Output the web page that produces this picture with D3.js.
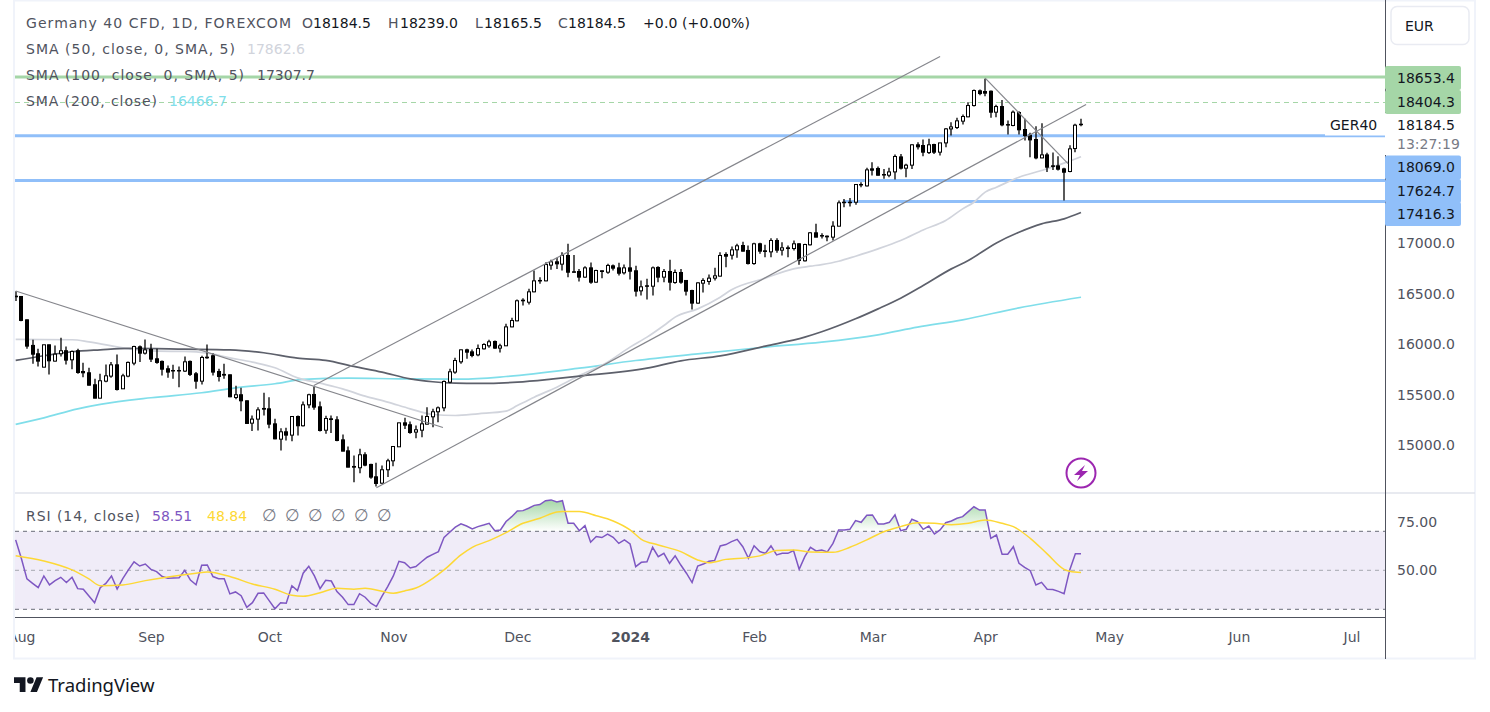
<!DOCTYPE html>
<html>
<head>
<meta charset="utf-8">
<title>Germany 40 CFD</title>
<script src="https://cdn.jsdelivr.net/npm/d3@7"></script>
<style>
    body { margin: 0; background: #fff; }
    text { font-family: "DejaVu Sans", sans-serif; font-size: 14px; }
</style>
</head>
<body>
<svg id="chart" width="1490" height="712"></svg>
<script>
// daily bars
var opens = [
    16477,16474,16242,15988,15905,15772,15994,15832,15905,15935,
    15845,15935,15729,15716,15597,15464,15633,15683,15795,15557,
    15683,15812,15974,15911,15948,15855,15829,15756,15739,15739,
    15733,15829,15706,15633,15871,15885,15729,15700,15696,15471,
    15498,15438,15216,15256,15362,15358,15209,15057,15130,15097,
    15282,15190,15398,15501,15378,15146,15259,15249,15050,14941,
    14786,14773,14902,14806,14683,14620,14753,14842,14981,15219,
    15200,15127,15146,15206,15279,15329,15368,15623,15723,15825,
    15944,15924,15894,15954,15984,16027,15961,15984,16172,16232,
    16431,16417,16520,16629,16629,16785,16818,16795,16881,16719,
    16722,16666,16758,16616,16729,16715,16778,16758,16709,16758,
    16729,16530,16580,16576,16762,16666,16722,16613,16712,16633,
    16533,16408,16606,16623,16656,16676,16891,16884,16937,16980,
    16931,16801,16997,16927,16917,17030,16934,16957,16950,16997,
    16828,16987,17106,17079,17073,17063,17172,17410,17410,17410,
    17586,17572,17741,17745,17685,17678,17711,17860,17748,17778,
    17980,17973,17903,17983,17907,17999,18138,18152,18215,18258,
    18370,18516,18509,18512,18304,18360,18181,18172,18301,18132,
    18076,18033,17850,17880,17771,17771,17741,17715,17943,18184.5
];
var highs = [
    16527,16477,16246,16044,15954,15994,15994,15988,16064,15977,
    15938,15954,15815,15766,15656,15706,15799,15822,15898,15706,
    15829,15984,15988,16047,16004,15954,15838,15789,15795,15779,
    15878,15838,15723,15885,15997,15911,15756,15806,15700,15587,
    15567,15441,15292,15375,15517,15474,15259,15166,15170,15285,
    15292,15431,15507,15580,15431,15289,15292,15285,15104,14984,
    14895,14961,14928,14812,14822,14796,14862,14988,15219,15269,
    15233,15193,15292,15375,15358,15381,15640,15756,15865,15947,
    15954,15947,15997,16010,16043,16037,16004,16202,16262,16444,
    16457,16550,16732,16666,16815,16838,16858,16914,16997,16887,
    16748,16775,16811,16739,16732,16798,16791,16808,16791,16960,
    16778,16633,16649,16772,16775,16748,16838,16742,16748,16633,
    16540,16616,16656,16692,16758,16914,16914,16970,16997,17017,
    16980,17007,17007,16987,17053,17053,17013,16980,17030,17003,
    16997,17113,17195,17103,17079,17222,17427,17443,17453,17592,
    17609,17751,17807,17764,17741,17751,17884,17890,17791,17986,
    18006,18033,18039,17990,17999,18148,18205,18248,18281,18403,
    18529,18529,18635,18519,18377,18426,18221,18321,18314,18238,
    18099,18165,18195,17900,17903,17867,17751,17976,18188,18239
];
var lows = [
    16428,16229,15954,15806,15779,15772,15700,15829,15878,15799,
    15752,15706,15673,15590,15464,15464,15623,15666,15540,15554,
    15673,15792,15822,15898,15822,15806,15689,15666,15656,15573,
    15723,15683,15557,15600,15855,15689,15630,15656,15474,15454,
    15335,15209,15137,15143,15292,15166,15057,14945,15044,15037,
    15093,15183,15365,15348,15133,15110,15117,15037,14938,14779,
    14630,14719,14789,14663,14587,14614,14680,14789,14978,15157,
    15110,15067,15077,15203,15176,15226,15335,15613,15706,15805,
    15855,15871,15881,15947,15964,15954,15918,15981,16169,16229,
    16384,16394,16517,16600,16626,16739,16748,16732,16666,16715,
    16623,16659,16600,16609,16656,16699,16732,16682,16692,16643,
    16474,16484,16444,16484,16616,16616,16533,16600,16600,16484,
    16345,16401,16513,16590,16633,16672,16765,16841,16858,16921,
    16791,16788,16897,16864,16864,16907,16881,16864,16931,16788,
    16821,16980,17063,17050,17023,17030,17172,17361,17367,17384,
    17559,17566,17675,17675,17642,17659,17635,17735,17659,17741,
    17933,17867,17890,17890,17874,17956,18072,18138,18181,18254,
    18360,18473,18463,18248,18254,18165,18082,18165,18082,18023,
    17857,17837,17847,17711,17731,17725,17427,17708,17907,18165.5
];
var closes = [
    16471,16236,15981,15901,15832,15994,15835,15901,15935,15842,
    15928,15719,15716,15593,15464,15637,15686,15795,15550,15686,
    15819,15977,15911,15944,15852,15819,15752,15723,15736,15736,
    15825,15700,15633,15868,15865,15723,15679,15693,15478,15498,
    15438,15213,15256,15348,15355,15206,15060,15130,15097,15282,
    15190,15398,15498,15375,15143,15262,15252,15044,14938,14779,
    14779,14902,14799,14680,14617,14753,14842,14984,15219,15196,
    15123,15150,15209,15282,15329,15368,15630,15726,15838,15944,
    15921,15888,15957,15997,16024,15961,15984,16172,16235,16431,
    16437,16520,16629,16633,16791,16818,16798,16881,16715,16715,
    16666,16758,16616,16732,16722,16782,16755,16705,16758,16725,
    16527,16570,16576,16758,16666,16722,16616,16712,16616,16527,
    16408,16609,16633,16656,16679,16881,16874,16937,16977,16924,
    16801,16997,16924,16921,17030,16934,16957,16950,16997,16831,
    16990,17106,17063,17076,17066,17172,17404,17407,17407,17586,
    17582,17731,17728,17678,17682,17711,17864,17748,17778,17980,
    17960,17907,17980,17907,17999,18138,18158,18218,18261,18370,
    18519,18489,18493,18304,18360,18178,18178,18304,18129,18072,
    18029,17850,17880,17758,17768,17738,17708,17940,18175,18184.5
];

// moving averages, read at these bar numbers
var sma50Bars = [0,10,13,20,25,30,34,38,42,46,50,54,58,62,66,70,74,78,82,87,89,92,96,100,105,109,112,115,117,121,125,127,133,138,141,143,146,149,153,157,161,165,168,170,172,174,178,182,186,189];
var sma50Values = [16047,16044,16024,15954,15931,15928,15911,15865,15822,15766,15666,15613,15557,15484,15425,15358,15302,15292,15309,15335,15391,15474,15573,15689,15822,15971,16070,16186,16269,16351,16467,16540,16656,16748,16775,16791,16824,16874,16947,17030,17135,17228,17344,17410,17510,17559,17658,17725,17798,17862.6];
var sma100Bars = [0,5,10,15,20,30,38,44,50,55,60,65,70,74,78,82,89,95,100,112,118,125,133,140,143,149,153,157,161,166,169,174,178,182,186,189];
var sma100Values = [15839,15885,15925,15944,15958,15951,15944,15915,15861,15839,15779,15723,15656,15627,15613,15610,15623,15653,15683,15762,15835,15884,15981,16070,16123,16252,16351,16457,16583,16748,16831,17006,17112,17195,17245,17307.7];
var sma200Bars = [0,5,11,15,24,33,39,46,51,59,68,79,87,100,110,121,133,143,153,160,168,178,189];
var sma200Values = [15203,15269,15358,15402,15468,15518,15567,15607,15650,15663,15656,15653,15679,15762,15838,15904,15971,16020,16093,16169,16242,16361,16466.7];

// RSI (14), one value per bar
var rsiValues = [
    65.6,56.2,45.6,43.3,41.1,47.1,42.5,44.7,46.4,43.7,
    46.4,40.6,40.3,36.8,33.4,41.1,43.3,47.1,40.4,45.7,
    50.2,54.3,52.2,53.2,50.5,49.3,46.8,45.9,46.1,46.2,
    50.0,45.0,42.6,52.6,52.7,46.8,45.7,45.7,37.9,38.9,
    37.0,31.0,33.4,38.2,38.4,34.3,30.3,33.4,33.1,42.1,
    39.6,48.5,52.1,47.1,40.6,44.9,44.5,39.1,36.2,32.4,
    32.4,38.0,36.2,33.1,31.4,36.8,41.6,47.1,54.6,53.9,
    51.2,51.9,54.4,56.7,58.2,59.6,66.9,69.5,72.1,73.8,
    72.7,71.2,72.4,73.2,74.1,70.3,70.7,75.0,77.5,80.4,
    80.6,81.8,83.3,83.7,85.7,86.1,85.0,85.7,74.1,74.1,
    70.3,72.9,64.4,67.3,66.8,68.6,66.9,63.8,65.6,63.5,
    51.9,54.1,54.4,61.8,57.0,58.7,53.6,57.4,52.7,48.5,
    43.7,52.2,53.2,54.6,55.0,62.5,63.2,64.7,65.9,62.1,
    56.2,62.6,59.6,58.7,62.5,57.9,58.7,58.7,60.1,50.5,
    57.0,61.8,59.9,60.4,59.4,63.8,70.7,70.7,71.0,75.5,
    74.6,78.2,78.4,73.8,73.8,74.6,78.4,70.3,71.0,76.2,
    75.0,71.0,72.7,68.6,70.7,74.4,75.3,76.7,77.5,80.1,
    82.6,80.9,80.9,66.4,68.1,58.2,58.2,62.1,53.6,51.5,
    49.8,42.5,43.8,40.3,40.1,39.2,38.0,50.2,58.5,58.51
];
var rsiMaBars = [0,5,10,13,15,19,23,27,32,34,38,42,46,49,51,54,57,60,62,65,67,69,71,74,76,79,81,84,87,90,93,96,97,100,103,106,109,111,114,118,121,123,126,130,132,135,138,141,145,148,151,154,157,160,163,166,169,172,175,177,180,183,186,187,189];
var rsiMaValues = [57.5,54.8,50.2,45.6,42.1,42.5,44.7,46.6,48.5,49.1,46.8,43.0,40.3,37.2,36.7,38.5,40.8,40.3,40.8,39.2,38.2,39.4,40.9,45.9,50.2,57.9,61.8,65.2,69.3,74.1,76.7,79.9,80.1,80.1,78.0,75.3,70.7,65.9,63.0,59.6,55.3,53.9,55.6,56.5,57.4,60.1,60.4,59.4,59.2,61.8,65.6,69.8,72.4,74.4,74.1,73.4,74.1,75.8,74.1,72.4,66.4,58.4,50.5,49.5,48.84];

// hand drawn lines on the chart: start and end of each
var trendBars = [[0,75.8],[52.9,164],[64,189.9],[172,186.7]];
var trendPrices = [[16528,15173],[15590,18857],[14574,18380],[18643,17794]];

var levelValues = [18653.4,18404.3,18069.0,17624.7,17416.3];
var levelKinds = ["green","greenDash","blue","blue","blue"];
var priceTicks = [17000,16500,16000,15500,15000];
var rsiTicks = [75,50];
var rsiBands = [70,50,30];
var monthBars = [1,24,45,67,89,109,131,152,172,194,217,237];
var monthLabels = ["Aug","Sep","Oct","Nov","Dec","2024","Feb","Mar","Apr","May","Jun","Jul"];

var ink = "#131722", gray = "#50535e", green = "#a5d6a7", blue = "#90bff9";
var paneRight = 1385, paneLeft = 15;

var svg = d3.select("#chart");
var defs = svg.append("defs");

defs.append("clipPath").attr("id", "paneClip").append("rect")
    .attr("x", paneLeft).attr("y", 0).attr("width", paneRight - paneLeft).attr("height", 660);

var x = d3.scaleLinear().domain([0, opens.length - 1]).range([15.67, 1081]);
var y = d3.scaleLinear().domain([15000, 17000]).range([444.9, 243.5]);
var yRsi = d3.scaleLinear().domain([30, 70]).range([609.3, 531.3]);

// frame and separators
svg.append("rect").attr("x", 14).attr("y", 0.5).attr("width", 1461).attr("height", 658)
    .attr("fill", "#fff").attr("stroke", "#f0f3fa").attr("stroke-width", 2);
svg.append("line").attr("x1", 15).attr("x2", 1475).attr("y1", 493).attr("y2", 493)
    .attr("stroke", "#e0e3eb").attr("stroke-width", 1.5);

var pane = svg.append("g").attr("clip-path", "url(#paneClip)");

// RSI background
pane.append("rect").attr("x", paneLeft).attr("width", paneRight - paneLeft)
    .attr("y", yRsi(70)).attr("height", yRsi(30) - yRsi(70)).attr("fill", "#f0ecf8");

pane.selectAll(".rsiBand").data(rsiBands).enter().append("line")
    .attr("x1", paneLeft).attr("x2", paneRight)
    .attr("y1", function(d) { return yRsi(d); })
    .attr("y2", function(d) { return yRsi(d); })
    .attr("stroke", function(d) { return d == 50 ? "#a6a8b0" : "#6a6d78"; })
    .attr("stroke-dasharray", "4 4");

// horizontal levels
pane.selectAll(".level").data(levelValues).enter().append("line")
    .attr("x1", function(d, i) { return i == 4 ? x(146.8) : paneLeft; })
    .attr("x2", paneRight)
    .attr("y1", function(d, i) { return levelKinds[i] == "greenDash" ? Math.round(y(d)) + 0.5 : y(d); })
    .attr("y2", function(d, i) { return levelKinds[i] == "greenDash" ? Math.round(y(d)) + 0.5 : y(d); })
    .attr("stroke", function(d, i) { return levelKinds[i] == "blue" ? blue : green; })
    .attr("stroke-width", function(d, i) { return levelKinds[i] == "greenDash" ? 1 : 3; })
    .attr("stroke-dasharray", function(d, i) { return levelKinds[i] == "greenDash" ? "5 4" : null; });

// moving averages
function drawAverage(bars, values, colour) {
    var line = d3.line()
        .curve(d3.curveMonotoneX)
        .x(function(d) { return x(d); })
        .y(function(d, i) { return y(values[i]); });
    pane.append("path").attr("d", line(bars))
        .attr("fill", "none").attr("stroke", colour).attr("stroke-width", 1.7);
}
drawAverage(sma200Bars, sma200Values, "#80deea");
drawAverage(sma50Bars, sma50Values, "#d1d4dc");
drawAverage(sma100Bars, sma100Values, "#5d606b");

// candles
var bars = pane.selectAll(".bar").data(opens).enter().append("g").attr("class", "bar");
bars.append("line")
    .attr("x1", function(d, i) { return Math.round(x(i)); })
    .attr("x2", function(d, i) { return Math.round(x(i)); })
    .attr("y1", function(d, i) { return y(highs[i]); })
    .attr("y2", function(d, i) { return y(lows[i]); })
    .attr("stroke", "#000").attr("stroke-width", 1.3);
bars.append("rect")
    .attr("x", function(d, i) { return Math.round(x(i)) - 1.5; })
    .attr("width", 3)
    .attr("y", function(d, i) { return y(Math.max(d, closes[i])); })
    .attr("height", function(d, i) { return Math.max(Math.abs(y(d) - y(closes[i])), 0.5); })
    .attr("fill", function(d, i) { return closes[i] >= d ? "#fff" : "#000"; })
    .attr("stroke", "#000").attr("stroke-width", 1);

// trend lines
pane.selectAll(".trend").data(trendBars).enter().append("line")
    .attr("x1", function(d) { return x(d[0]); })
    .attr("x2", function(d) { return x(d[1]); })
    .attr("y1", function(d, i) { return y(trendPrices[i][0]); })
    .attr("y2", function(d, i) { return y(trendPrices[i][1]); })
    .attr("stroke", "#85868c").attr("stroke-width", 1.2);

// RSI overbought shading, only the part above 70 shows
var obGrad = defs.append("linearGradient").attr("id", "obGrad")
    .attr("gradientUnits", "userSpaceOnUse")
    .attr("x1", 0).attr("x2", 0).attr("y1", yRsi(86)).attr("y2", yRsi(70));
obGrad.append("stop").attr("offset", 0).attr("stop-color", "#4caf50").attr("stop-opacity", 0.5);
obGrad.append("stop").attr("offset", 1).attr("stop-color", "#4caf50").attr("stop-opacity", 0);

defs.append("clipPath").attr("id", "obClip").append("rect")
    .attr("x", paneLeft).attr("y", 494).attr("width", paneRight - paneLeft).attr("height", yRsi(70) - 494);

var rsiArea = d3.area()
    .x(function(d, i) { return x(i); })
    .y0(yRsi(70))
    .y1(function(d) { return yRsi(d); });
pane.append("path").attr("d", rsiArea(rsiValues))
    .attr("fill", "url(#obGrad)").attr("clip-path", "url(#obClip)");

var rsiLine = d3.line()
    .x(function(d, i) { return x(i); })
    .y(function(d) { return yRsi(d); });
pane.append("path").attr("d", rsiLine(rsiValues))
    .attr("fill", "none").attr("stroke", "#7e57c2").attr("stroke-width", 1.5);

var rsiMaLine = d3.line()
    .curve(d3.curveMonotoneX)
    .x(function(d) { return x(d); })
    .y(function(d, i) { return yRsi(rsiMaValues[i]); });
pane.append("path").attr("d", rsiMaLine(rsiMaBars))
    .attr("fill", "none").attr("stroke", "#fdd835").attr("stroke-width", 1.5);

// flash icon
var flash = svg.append("g").attr("transform", "translate(1081,473)");
flash.append("circle").attr("r", 14.5).attr("fill", "#fff").attr("stroke", "#9c27b0").attr("stroke-width", 2);
flash.append("path").attr("d", "M4,-8 L-7,2 L-1,2 L-4,8 L7,-2 L1,-2 Z").attr("fill", "#9c27b0");

// axis lines
svg.append("line").attr("x1", paneRight + 0.5).attr("x2", paneRight + 0.5).attr("y1", 0).attr("y2", 659)
    .attr("stroke", gray);
svg.append("line").attr("x1", 15).attr("x2", paneRight).attr("y1", 617.5).attr("y2", 617.5)
    .attr("stroke", gray);

// price and RSI axes
var priceAxis = d3.axisRight(y).tickValues(priceTicks).tickFormat(d3.format(".1f")).tickSize(0).tickPadding(0);
var rsiAxis = d3.axisRight(yRsi).tickValues(rsiTicks).tickFormat(d3.format(".2f")).tickSize(0).tickPadding(0);
[svg.append("g").call(priceAxis), svg.append("g").call(rsiAxis)].forEach(function(axis) {
    axis.attr("transform", "translate(1397,0)");
    axis.select(".domain").remove();
    axis.selectAll("text").attr("fill", gray).style("font-size", "14px").style("font-family", "DejaVu Sans");
});

// month axis
var monthAxis = d3.axisBottom(x).tickValues(monthBars)
    .tickFormat(function(d, i) { return monthLabels[i]; }).tickSize(0).tickPadding(0);
var monthG = svg.append("g").attr("clip-path", "url(#paneClip)").append("g")
    .attr("transform", "translate(0,632)").call(monthAxis);
monthG.select(".domain").remove();
monthG.selectAll("text").attr("fill", gray).style("font-size", "14px").style("font-family", "DejaVu Sans")
    .style("font-weight", function(d, i) { return monthLabels[i] == "2024" ? "bold" : null; });

// white cover behind the symbol label and countdown
svg.append("rect").attr("x", paneRight - 60).attr("y", 117).attr("width", 60).attr("height", 18.5).attr("fill", "#fff");
svg.append("rect").attr("x", paneRight).attr("y", 113).attr("width", 76).attr("height", 42).attr("fill", "#fff");
svg.append("text").attr("x", 1330).attr("y", 130).attr("fill", ink).text("GER40");
svg.append("text").attr("x", 1397).attr("y", 130).attr("fill", ink).text("18184.5");
svg.append("text").attr("x", 1397).attr("y", 149).attr("fill", "#787b86").text("13:27:19");

// level tags, stacked so they do not overlap
var tagCentres = [78, 102, 167.5, 191, 214];
var tags = svg.selectAll(".tag").data(levelValues).enter().append("g").attr("class", "tag")
    .attr("transform", function(d, i) { return "translate(" + paneRight + "," + tagCentres[i] + ")"; });
tags.append("rect").attr("x", 0).attr("y", -12).attr("width", 76).attr("height", 24).attr("rx", 2)
    .attr("fill", function(d, i) { return levelKinds[i] == "blue" ? blue : green; });
tags.append("text").attr("x", 12).attr("dy", "0.35em").attr("fill", ink)
    .text(function(d) { return d.toFixed(1); });

// currency button
svg.append("rect").attr("x", 1391).attr("y", 6.5).attr("width", 78).attr("height", 38).attr("rx", 6)
    .attr("fill", "#fff").attr("stroke", "#e9ebf2").attr("stroke-width", 1.5);
svg.append("text").attr("x", 1405).attr("y", 31).attr("fill", ink).text("EUR");

// legend text, the last number stretches a label to the width it has in the picture
var legendRows = [
    [26, 28, "Germany 40 CFD, 1D, FOREXCOM", gray, 265],
    [302, 28, "O", gray], [313, 28, "18184.5", ink],
    [388, 28, "H", gray], [400, 28, "18239.0", ink],
    [475, 28, "L", gray], [484, 28, "18165.5", ink],
    [558, 28, "C", gray], [568, 28, "18184.5", ink],
    [643, 28, "+0.0 (+0.00%)", ink, 107],
    [26, 54, "SMA (50, close, 0, SMA, 5)", gray, 209], [247, 54, "17862.6", "#d1d4dc"],
    [26, 80, "SMA (100, close, 0, SMA, 5)", gray, 218], [257, 80, "17307.7", gray],
    [26, 106, "SMA (200, close)", gray, 131], [169, 106, "16466.7", "#80deea"],
    [26, 521, "RSI (14, close)", gray, 114], [152, 521, "58.51", "#7e57c2"], [207, 521, "48.84", "#fdd835"],
    [262, 521, "\u2205", "#787b86"], [285, 521, "\u2205", "#787b86"], [308, 521, "\u2205", "#787b86"],
    [331, 521, "\u2205", "#787b86"], [354, 521, "\u2205", "#787b86"], [377, 521, "\u2205", "#787b86"]
];
svg.selectAll(".legend").data(legendRows).enter().append("text")
    .attr("x", function(d) { return d[0]; })
    .attr("y", function(d) { return d[1]; })
    .attr("fill", function(d) { return d[3]; })
    .attr("textLength", function(d) { return d[4] || null; })
    .style("font-size", function(d) { return d[2] == "\u2205" ? "17px" : null; })
    .text(function(d) { return d[2]; });

// TradingView mark
var logo = svg.append("g").attr("transform", "translate(14,674) scale(0.82)").attr("fill", ink);
logo.append("path").attr("d", "M14 22H7V11H0V4h14v18zM28 22h-8l7.5-18h8L28 22z");
logo.append("circle").attr("cx", 20).attr("cy", 8).attr("r", 4);
svg.append("text").attr("x", 48).attr("y", 692).attr("fill", ink)
    .style("font-family", "Noto Sans").style("font-size", "18.5px").text("TradingView");
</script>
</body>
</html>
